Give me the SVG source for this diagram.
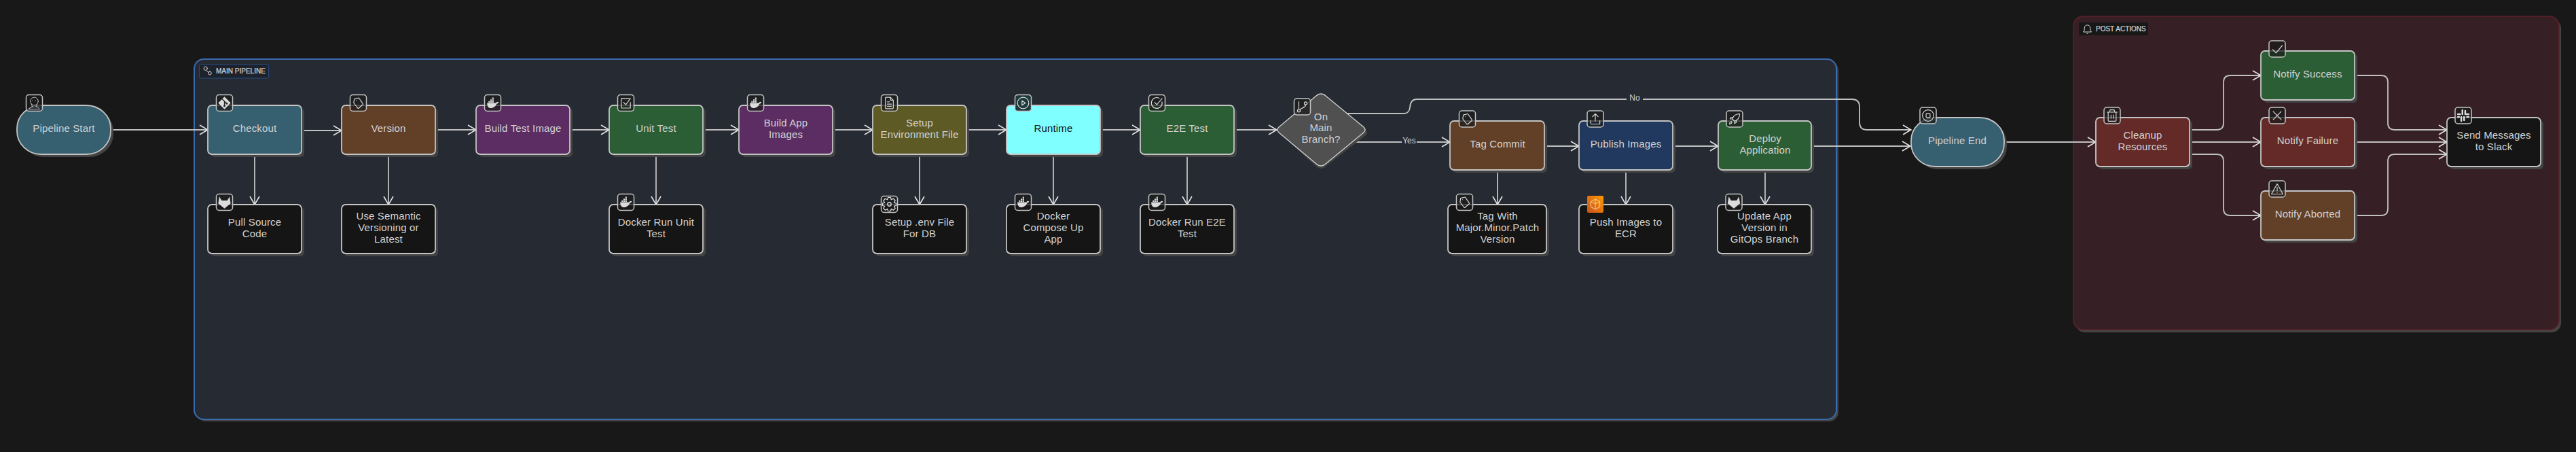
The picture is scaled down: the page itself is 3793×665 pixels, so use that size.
<svg xmlns="http://www.w3.org/2000/svg" width="3793" height="665" viewBox="0 0 3793 665">
<style>
text{font-family:"Liberation Sans",Arial,sans-serif;font-size:15px;letter-spacing:.15px;fill:#d2d2d2;text-anchor:middle}
.sh{fill:#444}
.n{stroke:#c4c4c4;stroke-width:1.8}
.teal{fill:#365f70}.brown{fill:#623f27}.purple{fill:#5c2d62}.green{fill:#2c5e35}.olive{fill:#5d5a26}.cyan{fill:#7fffff}.navy{fill:#21395e}.black{fill:#151515}.red{fill:#642a28}
.b{stroke:#c4c4c4;stroke-width:1.5;fill:#1a1a1a;fill-opacity:.72}
.e{fill:none;stroke:#c0c0c0;stroke-width:1.8;marker-end:url(#arrow)}
.lbl{font-size:12px;letter-spacing:0}
.ct{font-size:10px;letter-spacing:0;text-anchor:start;stroke:#d2d2d2;stroke-width:.25}
.ic{fill:none;stroke:#dcdcdc;stroke-width:1.4;stroke-linecap:round;stroke-linejoin:round}
.if{fill:#dcdcdc;stroke:none}
</style>
<defs>
<marker id="arrow" markerUnits="userSpaceOnUse" markerWidth="14" markerHeight="18" refX="13" refY="9" orient="auto"><path d="M1 2L13 9L1 16" fill="none" stroke="#e4e4e4" stroke-width="1.6"/></marker>
<symbol id="i-jenkins" viewBox="0 0 24 24"><g class="ic" style="stroke-width:1"><circle cx="12" cy="9" r="7"/><path d="M7 14c0 3 2 4 3 5M17 14c0 3-1 4-2 5M3 23c1-3 3-4 6-5M21 23c-1-3-3-4-6-5M3 23H21M9 8h.5M14 8h.5"/></g></symbol>
<symbol id="i-git" viewBox="0 0 24 24"><path class="if" d="M12 1L23 12L12 23L1 12Z"/><path d="M8 5L16 13M12 9V18" fill="none" stroke="#222" stroke-width="1.6"/><circle cx="12" cy="17" r="1.8" fill="#222"/><circle cx="16" cy="13" r="1.8" fill="#222"/></symbol>
<symbol id="i-gitlab" viewBox="0 0 24 24"><path class="if" d="M3 2L7 9H17L21 2L23 14L12 23L1 14Z"/></symbol>
<symbol id="i-tag" viewBox="0 0 24 24"><path class="ic" d="M5 5L13 3L20 13Q21 14 20 15L13 21Q12 22 11 21L4 12Z"/><circle cx="8.5" cy="7.5" r=".7" class="if"/></symbol>
<symbol id="i-docker" viewBox="0 0 24 24"><path class="if" d="M2 12H18c.5-2 3-3 4.500-1.500c-.5 2-2 3-3.500 3C17 19 12 21 8 21C4 21 2 17 2 12z"/><path class="if" d="M4.500 8.800h2.600v2.600h-2.600zM7.800 8.800h2.600v2.600h-2.600zM11.100 8.800h2.600v2.600h-2.600zM7.800 5.600h2.600v2.600h-2.600zM11.100 5.600h2.600v2.600h-2.600zM11.100 2.400h2.600v2.600h-2.600z"/></symbol>
<symbol id="i-checkbox" viewBox="0 0 24 24"><path class="ic" d="M20 11V21H4V4H18M8 11L12 15L20 4"/></symbol>
<symbol id="i-file" viewBox="0 0 24 24"><path class="ic" d="M6 2H14L19 7V21Q19 22 18 22H6Q5 22 5 21V3Q5 2 6 2ZM14 2V7H19M8.500 10H12M8.500 14H15.500M8.500 18H15.500"/></symbol>
<symbol id="i-gear" viewBox="0 0 24 24"><circle class="ic" cx="12" cy="12" r="3"/><path class="ic" d="M10 1H14L15 4.500L18.500 3L21.500 6L19.500 9.500L23 10.500V14L19.500 15L21.500 18.500L18.500 21.500L15 19.500L14 23H10L9 19.500L5.500 21.500L2.500 18.500L4.500 15L1 14V10.500L4.500 9.500L2.500 6L5.500 3L9 4.500Z"/></symbol>
<symbol id="i-play" viewBox="0 0 24 24"><circle class="ic" cx="12" cy="12" r="10"/><path class="ic" d="M10 8L16 12L10 16Z"/></symbol>
<symbol id="i-ccheck" viewBox="0 0 24 24"><path class="ic" d="M21 10A9.500 9.500 0 1 1 16 3.500M8 11L12 15L21 4"/></symbol>
<symbol id="i-branch" viewBox="0 0 24 24"><g class="ic"><path d="M6 3V15M18 9C18 14 11 14 8 17"/><circle cx="6" cy="19" r="2.500"/><circle cx="18" cy="6" r="2.500"/></g></symbol>
<symbol id="i-upload" viewBox="0 0 24 24"><path class="ic" d="M4 15V20Q4 21 5 21H19Q20 21 20 20V15M12 16V3M7 8L12 3L17 8"/></symbol>
<symbol id="i-rocket" viewBox="0 0 24 24"><path class="ic" d="M8 12C10 6 15 3 21 3C21 9 18 14 12 16ZM8 12H4L6 9H10M12 16V20L15 18V14M5 17C3 18 3 21 3 21C3 21 6 21 7 19C8 17 6 16 5 17Z"/></symbol>
<symbol id="i-ecr" viewBox="0 0 24 24"><path d="M12 3L20 7.500V16.500L12 21L4 16.500V7.500Z" fill="none" stroke="#f6d8b0" stroke-width="1.200"/><path d="M12 3V21M12 11L20 7.500M12 11L4 7.500" fill="none" stroke="#f6d8b0" stroke-width="1"/></symbol>
<symbol id="i-stop" viewBox="0 0 24 24"><circle class="ic" cx="12" cy="12" r="10"/><rect class="ic" x="8.500" y="8.500" width="7" height="7" rx="1"/></symbol>
<symbol id="i-trash" viewBox="0 0 24 24"><path class="ic" d="M3 6H21M8 6V3Q8 2 9 2H15Q16 2 16 3V6M5 6V21Q5 22 6 22H18Q19 22 19 21V6M10 11V17M14 11V17"/></symbol>
<symbol id="i-check" viewBox="0 0 24 24"><path class="ic" d="M4 13L10 19L21 6"/></symbol>
<symbol id="i-x" viewBox="0 0 24 24"><path class="ic" d="M5 5L19 19M19 5L5 19"/></symbol>
<symbol id="i-warn" viewBox="0 0 24 24"><path class="ic" d="M12 3L22 21H2ZM12 9V15M12 18V18.200"/></symbol>
<symbol id="i-slack" viewBox="0 0 24 24"><g class="if"><rect x="9" y="1" width="3" height="10" rx="1.500"/><rect x="14" y="2" width="3" height="9" rx="1.500"/><rect x="7" y="13" width="3" height="10" rx="1.500"/><rect x="12" y="13" width="3" height="9" rx="1.500"/><rect x="1" y="8" width="7" height="3" rx="1.500"/><rect x="16" y="8" width="7" height="3" rx="1.500"/><rect x="1" y="13" width="5" height="3" rx="1.500"/><rect x="17" y="13" width="6" height="3" rx="1.500"/></g></symbol>
<symbol id="i-bell" viewBox="0 0 24 24"><path class="ic" d="M4 18C6 16 6 14 6 10A6 6 0 0 1 18 10C18 14 18 16 20 18ZM11 21.500H13"/></symbol>
<symbol id="i-flow" viewBox="0 0 24 24"><g class="ic"><circle cx="7" cy="7" r="4"/><rect x="13" y="14" width="7" height="7" rx="3.500"/><path d="M8 11L14 16"/></g></symbol>
<linearGradient id="aws" x1="0" y1="1" x2="1" y2="0"><stop offset="0" stop-color="#c8511b"/><stop offset="1" stop-color="#ff9900"/></linearGradient>
</defs>
<rect width="3793" height="665" fill="#181818"/>

<g id="cluster-main">
<rect x="289" y="90" width="2418" height="530" rx="14" class="sh"/>
<rect x="286" y="87" width="2418" height="530" rx="14" fill="#262b33" stroke="#3a6bb0" stroke-width="2"/>
<rect x="293.500" y="94.500" width="102" height="20.500" rx="2" fill="#1e222b" stroke="#264a80"/>
<use href="#i-flow" x="298" y="96" width="16" height="16"/>
<text class="ct" x="318" y="108">MAIN PIPELINE</text>
</g>
<g id="cluster-post">
<rect x="3056" y="28" width="715" height="461" rx="14" class="sh"/>
<rect x="3053" y="24" width="715" height="461" rx="14" fill="#362026" stroke="#5c2028" stroke-width="1.500"/>
<rect x="3061" y="33" width="102" height="19" fill="#181818"/>
<use href="#i-bell" x="3065" y="34" width="17" height="17"/>
<text class="ct" x="3086" y="46">POST ACTIONS</text>
</g>

<g id="connectors">
<path class="e" d="M165 191H306"/>
<path class="e" d="M444 192H503"/>
<path class="e" d="M641 191H701"/>
<path class="e" d="M841 191H897"/>
<path class="e" d="M1035 191H1088"/>
<path class="e" d="M1226 191H1285"/>
<path class="e" d="M1423 191H1482"/>
<path class="e" d="M1620 191H1679"/>
<path class="e" d="M1817 191H1880"/>
<path class="e" d="M375 227V301"/>
<path class="e" d="M572 227V301"/>
<path class="e" d="M966 229V301"/>
<path class="e" d="M1354 229V301"/>
<path class="e" d="M1551 229V301"/>
<path class="e" d="M1748 229V301"/>
<path class="e" d="M2205 250V301"/>
<path class="e" d="M2394 252V301"/>
<path class="e" d="M2599 250V301"/>
<path class="e" d="M1992 209H2135"/>
<path class="e" d="M1983 167H2067Q2075 167 2076 158Q2077 146 2086 146H2727Q2738 146 2738 157V180Q2738 191 2749 191H2814"/>
<path class="e" d="M2274 215H2325"/>
<path class="e" d="M2463 215H2530"/>
<path class="e" d="M2667 215H2813"/>
<path class="e" d="M2953 209H3086"/>
<path class="e" d="M3224 191H3264Q3274 191 3274 181V121Q3274 111 3284 111H3329"/>
<path class="e" d="M3224 209H3329"/>
<path class="e" d="M3224 227H3264Q3274 227 3274 237V307Q3274 317 3284 317H3329"/>
<path class="e" d="M3469 111H3506Q3516 111 3516 121V181Q3516 191 3526 191H3603"/>
<path class="e" d="M3467 209H3603"/>
<path class="e" d="M3469 317H3506Q3516 317 3516 307V237Q3516 227 3526 227H3603"/>
<rect x="2064" y="200" width="22" height="16" fill="#262b33"/>
<text class="lbl" x="2075" y="211">Yes</text>
<rect x="2395" y="138" width="24" height="16" fill="#262b33"/>
<text class="lbl" x="2407" y="148">No</text>
</g>

<g id="pipeline-start"><rect x="29" y="159" width="138" height="72" rx="36" ry="34" class="sh"/><rect x="25" y="155" width="138" height="72" rx="36" ry="34" class="n teal"/><rect x="38.500" y="139.500" width="24" height="24" rx="4" class="b"/><use href="#i-jenkins" x="40.500" y="141.500" width="20" height="20"/><text x="94" y="194">Pipeline Start</text></g>
<g id="checkout"><rect x="310" y="159" width="138" height="72" rx="6" class="sh"/><rect x="306" y="155" width="138" height="72" rx="6" class="n teal"/><rect x="318.500" y="139.500" width="24" height="24" rx="4" class="b"/><use href="#i-git" x="320.500" y="141.500" width="20" height="20"/><text x="375" y="194">Checkout</text></g>
<g id="pull-source"><rect x="310" y="305" width="138" height="72" rx="6" class="sh"/><rect x="306" y="301" width="138" height="72" rx="6" class="n black"/><rect x="318.500" y="285.500" width="24" height="24" rx="4" class="b"/><use href="#i-gitlab" x="320.500" y="287.500" width="20" height="20"/><text x="375" y="332">Pull Source</text><text x="375" y="349">Code</text></g>
<g id="version"><rect x="507" y="159" width="138" height="72" rx="6" class="sh"/><rect x="503" y="155" width="138" height="72" rx="6" class="n brown"/><rect x="515.500" y="139.500" width="24" height="24" rx="4" class="b"/><use href="#i-tag" x="517.500" y="141.500" width="20" height="20"/><text x="572" y="194">Version</text></g>
<g id="semver"><rect x="507" y="305" width="138" height="72" rx="6" class="sh"/><rect x="503" y="301" width="138" height="72" rx="6" class="n black"/><text x="572" y="323">Use Semantic</text><text x="572" y="340">Versioning or</text><text x="572" y="357">Latest</text></g>
<g id="build-test"><rect x="705" y="159" width="138" height="72" rx="6" class="sh"/><rect x="701" y="155" width="138" height="72" rx="6" class="n purple"/><rect x="713.500" y="139.500" width="24" height="24" rx="4" class="b"/><use href="#i-docker" x="715.500" y="141.500" width="20" height="20"/><text x="770" y="194">Build Test Image</text></g>
<g id="unit-test"><rect x="901" y="159" width="138" height="72" rx="6" class="sh"/><rect x="897" y="155" width="138" height="72" rx="6" class="n green"/><rect x="909.500" y="139.500" width="24" height="24" rx="4" class="b"/><use href="#i-checkbox" x="911.500" y="141.500" width="20" height="20"/><text x="966" y="194">Unit Test</text></g>
<g id="docker-unit"><rect x="901" y="305" width="138" height="72" rx="6" class="sh"/><rect x="897" y="301" width="138" height="72" rx="6" class="n black"/><rect x="909.500" y="285.500" width="24" height="24" rx="4" class="b"/><use href="#i-docker" x="911.500" y="287.500" width="20" height="20"/><text x="966" y="332">Docker Run Unit</text><text x="966" y="349">Test</text></g>
<g id="build-app"><rect x="1092" y="159" width="138" height="72" rx="6" class="sh"/><rect x="1088" y="155" width="138" height="72" rx="6" class="n purple"/><rect x="1100.500" y="139.500" width="24" height="24" rx="4" class="b"/><use href="#i-docker" x="1102.500" y="141.500" width="20" height="20"/><text x="1157" y="186">Build App</text><text x="1157" y="203">Images</text></g>
<g id="setup-env"><rect x="1289" y="159" width="138" height="72" rx="6" class="sh"/><rect x="1285" y="155" width="138" height="72" rx="6" class="n olive"/><rect x="1297.500" y="139.500" width="24" height="24" rx="4" class="b"/><use href="#i-file" x="1299.500" y="141.500" width="20" height="20"/><text x="1354" y="186">Setup</text><text x="1354" y="203">Environment File</text></g>
<g id="setup-dotenv"><rect x="1289" y="305" width="138" height="72" rx="6" class="sh"/><rect x="1285" y="301" width="138" height="72" rx="6" class="n black"/><rect x="1297.500" y="288.500" width="24" height="24" rx="4" class="b"/><use href="#i-gear" x="1298.500" y="289.500" width="22" height="22"/><text x="1354" y="332">Setup .env File</text><text x="1354" y="349">For DB</text></g>
<g id="runtime"><rect x="1486" y="159" width="138" height="72" rx="6" class="sh"/><rect x="1482" y="155" width="138" height="72" rx="6" class="n cyan"/><rect x="1494.500" y="139.500" width="24" height="24" rx="4" class="b" style="fill:#1f3a3d;fill-opacity:1"/><use href="#i-play" x="1496.500" y="141.500" width="20" height="20"/><text x="1551" y="194" style="fill:#111">Runtime</text></g>
<g id="docker-compose"><rect x="1486" y="305" width="138" height="72" rx="6" class="sh"/><rect x="1482" y="301" width="138" height="72" rx="6" class="n black"/><rect x="1494.500" y="285.500" width="24" height="24" rx="4" class="b"/><use href="#i-docker" x="1496.500" y="287.500" width="20" height="20"/><text x="1551" y="323">Docker</text><text x="1551" y="340">Compose Up</text><text x="1551" y="357">App</text></g>
<g id="e2e-test"><rect x="1683" y="159" width="138" height="72" rx="6" class="sh"/><rect x="1679" y="155" width="138" height="72" rx="6" class="n green"/><rect x="1691.500" y="139.500" width="24" height="24" rx="4" class="b"/><use href="#i-ccheck" x="1693.500" y="141.500" width="20" height="20"/><text x="1748" y="194">E2E Test</text></g>
<g id="docker-e2e"><rect x="1683" y="305" width="138" height="72" rx="6" class="sh"/><rect x="1679" y="301" width="138" height="72" rx="6" class="n black"/><rect x="1691.500" y="285.500" width="24" height="24" rx="4" class="b"/><use href="#i-docker" x="1693.500" y="287.500" width="20" height="20"/><text x="1748" y="332">Docker Run E2E</text><text x="1748" y="349">Test</text></g>
<g id="on-main"><path d="M1945 142Q1949 142 1953 146L2011 191Q2015 195 2011 199L1953 244Q1949 248 1945 248Q1941 248 1937 244L1888 199Q1884 195 1888 191L1937 146Q1941 142 1945 142Z" class="sh"/><path d="M1945 138Q1949 138 1952 141L2008 187Q2012 191 2008 195L1952 241Q1949 244 1945 244Q1941 244 1938 241L1883 195Q1879 191 1883 187L1938 141Q1941 138 1945 138Z" fill="#505050" stroke="#d0d0d0" stroke-width="1.300"/><rect x="1905.500" y="145" width="24" height="24" rx="4" class="b"/><use href="#i-branch" x="1907.500" y="147" width="20" height="20"/><text x="1945" y="177">On</text><text x="1945" y="193">Main</text><text x="1945" y="210">Branch?</text></g>
<g id="tag-commit"><rect x="2139" y="182" width="139" height="72" rx="6" class="sh"/><rect x="2135" y="178" width="139" height="72" rx="6" class="n brown"/><rect x="2148.500" y="163" width="24" height="24" rx="4" class="b"/><use href="#i-tag" x="2150.500" y="165" width="20" height="20"/><text x="2205" y="217">Tag Commit</text></g>
<g id="tag-with"><rect x="2136" y="305" width="145" height="72" rx="6" class="sh"/><rect x="2132" y="301" width="145" height="72" rx="6" class="n black"/><rect x="2144.500" y="285.500" width="24" height="24" rx="4" class="b"/><use href="#i-tag" x="2146.500" y="287.500" width="20" height="20"/><text x="2205" y="323">Tag With</text><text x="2205" y="340">Major.Minor.Patch</text><text x="2205" y="357">Version</text></g>
<g id="publish"><rect x="2329" y="182" width="138" height="72" rx="6" class="sh"/><rect x="2325" y="178" width="138" height="72" rx="6" class="n navy"/><rect x="2337" y="163" width="24" height="24" rx="4" class="b"/><use href="#i-upload" x="2339" y="165" width="20" height="20"/><text x="2394" y="217">Publish Images</text></g>
<g id="push-ecr"><rect x="2329" y="305" width="138" height="72" rx="6" class="sh"/><rect x="2325" y="301" width="138" height="72" rx="6" class="n black"/><rect x="2337" y="288" width="24" height="25" rx="2" fill="url(#aws)"/><use href="#i-ecr" x="2339" y="290.500" width="20" height="20"/><text x="2394" y="332">Push Images to</text><text x="2394" y="349">ECR</text></g>
<g id="deploy"><rect x="2534" y="182" width="137" height="72" rx="6" class="sh"/><rect x="2530" y="178" width="137" height="72" rx="6" class="n green"/><rect x="2542" y="163" width="24" height="24" rx="4" class="b"/><use href="#i-rocket" x="2544" y="165" width="20" height="20"/><text x="2599" y="209">Deploy</text><text x="2599" y="226">Application</text></g>
<g id="update-app"><rect x="2533" y="305" width="138" height="72" rx="6" class="sh"/><rect x="2529" y="301" width="138" height="72" rx="6" class="n black"/><rect x="2541" y="285.500" width="24" height="24" rx="4" class="b"/><use href="#i-gitlab" x="2543" y="287.500" width="20" height="20"/><text x="2598" y="323">Update App</text><text x="2598" y="340">Version in</text><text x="2598" y="357">GitOps Branch</text></g>
<g id="pipeline-end"><rect x="2818" y="177" width="137" height="72" rx="36" ry="34" class="sh"/><rect x="2814" y="173" width="137" height="72" rx="36" ry="34" class="n teal"/><rect x="2827" y="158" width="24" height="24" rx="4" class="b"/><use href="#i-stop" x="2829" y="160" width="20" height="20"/><text x="2882" y="212">Pipeline End</text></g>
<g id="cleanup"><rect x="3090" y="177" width="138" height="72" rx="6" class="sh"/><rect x="3086" y="173" width="138" height="72" rx="6" class="n red"/><rect x="3098" y="158" width="24" height="24" rx="4" class="b"/><use href="#i-trash" x="3100" y="160" width="20" height="20"/><text x="3155" y="204">Cleanup</text><text x="3155" y="221">Resources</text></g>
<g id="notify-success"><rect x="3333" y="79" width="138" height="72" rx="6" class="sh"/><rect x="3329" y="75" width="138" height="72" rx="6" class="n green"/><rect x="3341" y="60" width="24" height="24" rx="4" class="b"/><use href="#i-check" x="3343" y="62" width="20" height="20"/><text x="3398" y="114">Notify Success</text></g>
<g id="notify-failure"><rect x="3333" y="177" width="138" height="72" rx="6" class="sh"/><rect x="3329" y="173" width="138" height="72" rx="6" class="n red"/><rect x="3341" y="158" width="24" height="24" rx="4" class="b"/><use href="#i-x" x="3343" y="160" width="20" height="20"/><text x="3398" y="212">Notify Failure</text></g>
<g id="notify-aborted"><rect x="3333" y="285" width="138" height="72" rx="6" class="sh"/><rect x="3329" y="281" width="138" height="72" rx="6" class="n brown"/><rect x="3341" y="266" width="24" height="24" rx="4" class="b"/><use href="#i-warn" x="3343" y="268" width="20" height="20"/><text x="3398" y="320">Notify Aborted</text></g>
<g id="send-slack"><rect x="3607" y="177" width="138" height="72" rx="6" class="sh"/><rect x="3603" y="173" width="138" height="72" rx="6" class="n black"/><rect x="3615" y="158" width="24" height="24" rx="4" class="b"/><use href="#i-slack" x="3617" y="160" width="20" height="20"/><text x="3672" y="204">Send Messages</text><text x="3672" y="221">to Slack</text></g>
</svg>
